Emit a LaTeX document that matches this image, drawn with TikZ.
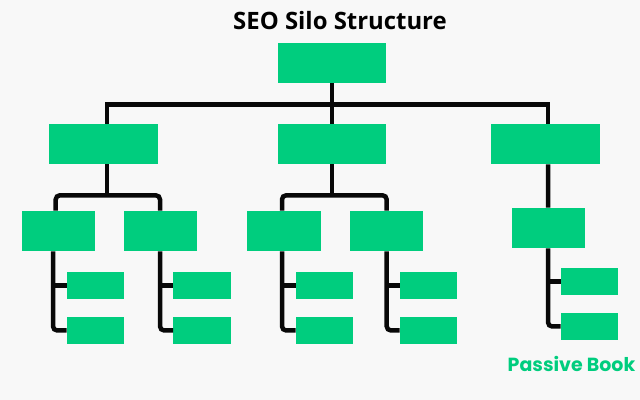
\documentclass[tikz,border=0pt]{standalone}
\usepackage{fontspec}
\newfontfamily\titlefont{Open Sans}
\newfontfamily\brandfont{Poppins}
\usetikzlibrary{calc}
\definecolor{seogreen}{RGB}{0,205,126}
\definecolor{bgcol}{RGB}{248,248,248}
\definecolor{linecol}{RGB}{8,8,8}
\tikzset{
  box/.style={fill=seogreen, draw=none, inner sep=0pt},
  topbox/.style={box, minimum width=2.7cm, minimum height=1cm},
  midbox/.style={box, minimum width=1.84cm, minimum height=1cm},
  leafbox/.style={box, minimum width=1.425cm, minimum height=0.675cm},
  conn/.style={draw=linecol, line width=3.2pt},
}
\begin{document}
\begin{tikzpicture}[x=0.025cm, y=-0.025cm]
\fill[bgcol] (0,0) rectangle (640,400);
\useasboundingbox (0,0) rectangle (640,400);

\node[anchor=base, font=\titlefont\bfseries\fontsize{17}{20}\selectfont] (title) at (340,30) {SEO Silo Structure};
\node[anchor=base, text=seogreen, font=\brandfont\bfseries\fontsize{13.5}{16}\selectfont] (brand) at (571.5,372) {Passive Book};

% boxes
\node[topbox] (root) at (332,63) {};
\node[topbox] (L1a) at (103.5,144) {};
\node[topbox] (L1b) at (332,144) {};
\node[topbox] (L1c) at (545.5,144) {};
\node[midbox] (L2a) at (58.5,231) {};
\node[midbox] (L2b) at (160.5,231) {};
\node[midbox] (L2c) at (284,231) {};
\node[midbox] (L2d) at (386.5,231) {};
\node[midbox] (L2e) at (548.5,228) {};
\node[leafbox] (a1) at (95.5,285.5) {};
\node[leafbox] (a2) at (95.5,330.5) {};
\node[leafbox] (b1) at (202,285.5) {};
\node[leafbox] (b2) at (202,330.5) {};
\node[leafbox] (c1) at (324.5,285.5) {};
\node[leafbox] (c2) at (324.5,330.5) {};
\node[leafbox] (d1) at (428.5,285.5) {};
\node[leafbox] (d2) at (428.5,330.5) {};
\node[leafbox] (e1) at (589.5,281.5) {};
\node[leafbox] (e2) at (589.5,326.5) {};

% top bus
\draw[conn] (root.south) -- ++(0,21) coordinate (bus);
\draw[conn] ($(L1a.north)+(3.5,0)$) |- (bus) -| ($(L1c.north)+(2.5,0)$);
\draw[conn] (bus) -- (L1b.north);

% level 1 -> level 2
\draw[conn] ($(L1a.south)+(3.5,0)$) -- ++(0,31) coordinate (ja);
\draw[conn, rounded corners=3] ($(L2a.north)+(-2.8,0)$) |- (ja) -| ($(L2b.north)+(-0.5,0)$);
\draw[conn] (L1b.south) -- ++(0,31) coordinate (jb);
\draw[conn, rounded corners=3] ($(L2c.north)+(-2,0)$) |- (jb) -| ($(L2d.north)+(0.2,0)$);
\draw[conn] ($(L1c.south)+(2.5,0)$) -- ($(L2e.north)+(-0.5,0)$);

% level 2 -> leaves
\coordinate (ta) at ($(L2a.south)+(-5.5,0)$);
\coordinate (tb) at ($(L2b.south)+(-0.5,0)$);
\coordinate (tc) at ($(L2c.south)+(-2,0)$);
\coordinate (td) at ($(L2d.south)+(0.2,0)$);
\coordinate (te) at ($(L2e.south)+(-0.5,0)$);
\foreach \s/\u/\v in {ta/a1/a2, tb/b1/b2, tc/c1/c2, td/d1/d2, te/e1/e2} {
  \draw[conn, rounded corners=3] (\s) |- (\v.west);
  \draw[conn] (\u.west -| \s) -- (\u.west);
}
\end{tikzpicture}
\end{document}
